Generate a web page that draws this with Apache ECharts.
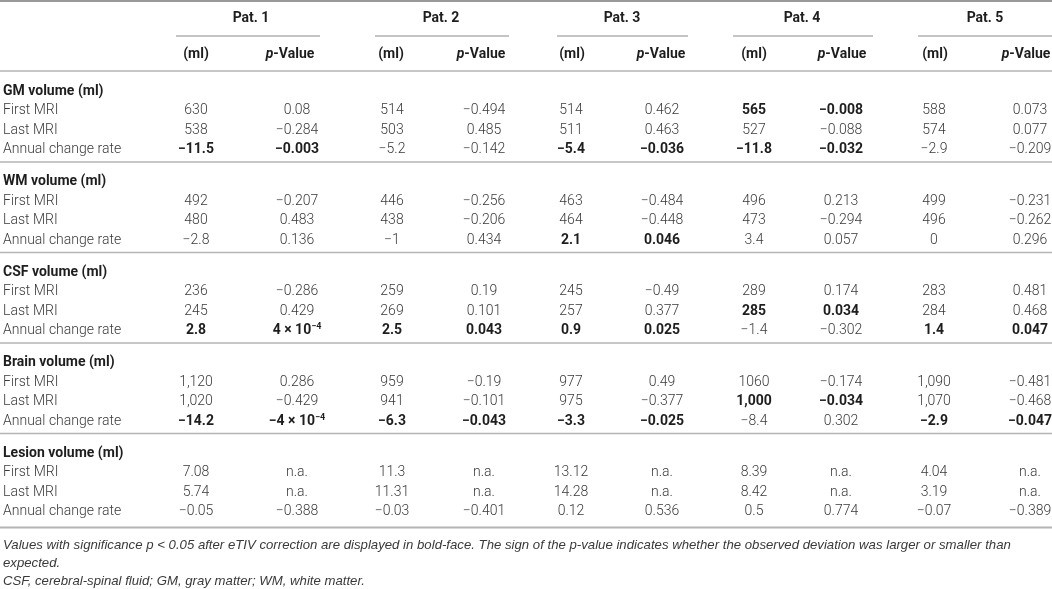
<!DOCTYPE html>
<html>
<head>
<meta charset="utf-8">
<script src="https://cdn.jsdelivr.net/npm/echarts@6/dist/echarts.min.js"></script>
<style>
  html, body { margin: 0; padding: 0; background: #fff; }
  #tbl { width: 1052px; height: 589px; }
</style>
</head>
<body>
<div id="tbl"></div>
<script>
// table content
const patients = ['Pat. 1', 'Pat. 2', 'Pat. 3', 'Pat. 4', 'Pat. 5'];
const subHeads = ['(ml)', '{i|p}-Value'];
const measures = ['GM volume (ml)', 'WM volume (ml)', 'CSF volume (ml)', 'Brain volume (ml)', 'Lesion volume (ml)'];
const rowLabels = ['First MRI', 'Last MRI', 'Annual change rate'];

// per row: (ml), p-value for Pat. 1..5
const gmVals = [
  ['630', '0.08', '514', '−0.494', '514', '0.462', '565', '−0.008', '588', '0.073'],
  ['538', '−0.284', '503', '0.485', '511', '0.463', '527', '−0.088', '574', '0.077'],
  ['−11.5', '−0.003', '−5.2', '−0.142', '−5.4', '−0.036', '−11.8', '−0.032', '−2.9', '−0.209']
];
const wmVals = [
  ['492', '−0.207', '446', '−0.256', '463', '−0.484', '496', '0.213', '499', '−0.231'],
  ['480', '0.483', '438', '−0.206', '464', '−0.448', '473', '−0.294', '496', '−0.262'],
  ['−2.8', '0.136', '−1', '0.434', '2.1', '0.046', '3.4', '0.057', '0', '0.296']
];
const csfVals = [
  ['236', '−0.286', '259', '0.19', '245', '−0.49', '289', '0.174', '283', '0.481'],
  ['245', '0.429', '269', '0.101', '257', '0.377', '285', '0.034', '284', '0.468'],
  ['2.8', '4 × 10^−4', '2.5', '0.043', '0.9', '0.025', '−1.4', '−0.302', '1.4', '0.047']
];
const brainVals = [
  ['1,120', '0.286', '959', '−0.19', '977', '0.49', '1060', '−0.174', '1,090', '−0.481'],
  ['1,020', '−0.429', '941', '−0.101', '975', '−0.377', '1,000', '−0.034', '1,070', '−0.468'],
  ['−14.2', '−4 × 10^−4', '−6.3', '−0.043', '−3.3', '−0.025', '−8.4', '0.302', '−2.9', '−0.047']
];
const lesionVals = [
  ['7.08', 'n.a.', '11.3', 'n.a.', '13.12', 'n.a.', '8.39', 'n.a.', '4.04', 'n.a.'],
  ['5.74', 'n.a.', '11.31', 'n.a.', '14.28', 'n.a.', '8.42', 'n.a.', '3.19', 'n.a.'],
  ['−0.05', '−0.388', '−0.03', '−0.401', '0.12', '0.536', '0.5', '0.774', '−0.07', '−0.389']
];
// 1 = significant (bold)
const gmBold = ['0000001100', '0000000000', '1100111100'];
const wmBold = ['0000000000', '0000000000', '0000110000'];
const csfBold = ['0000000000', '0000001100', '1111110011'];
const brainBold = ['0000000000', '0000001100', '1111110011'];
const lesionBold = ['0000000000', '0000000000', '0000000000'];

const footnotes = [
  'Values with significance p < 0.05 after eTIV correction are displayed in bold-face. The sign of the p-value indicates whether the observed deviation was larger or smaller than',
  'expected.',
  'CSF, cerebral-spinal fluid; GM, gray matter; WM, white matter.'
];

const blockVals = [gmVals, wmVals, csfVals, brainVals, lesionVals];
const blockBold = [gmBold, wmBold, csfBold, brainBold, lesionBold];

// layout (px in a 1052 x 589 space)
const colX = [196, 297, 392, 484, 571, 662, 754, 841, 934, 1030];
const headX = [196, 290, 391, 481, 572, 661, 754, 842, 935, 1026];
const patX = [251, 441, 622, 802, 985];
const underlines = [[176, 320], [375, 509], [557, 688], [733, 873], [918, 1052]];
const FONT = 'Roboto, "Liberation Sans", Arial, sans-serif';
const NOTE_FONT = '"Liberation Sans", Arial, sans-serif';

const cells = [];
const addCell = (x, y, text, kind, align) => cells.push({x, y, text, kind, align: align || 'center'});

patients.forEach((p, i) => addCell(patX[i], 18, p, 'bold'));
patients.forEach((p, i) => {
  addCell(headX[i * 2], 54, subHeads[0], 'bold');
  addCell(headX[i * 2 + 1], 54, subHeads[1], 'bold');
});

const lines = [];
lines.push([0, 1, 1052, 2, '#999']);
underlines.forEach(u => lines.push([u[0], 36, u[1], 2, '#c4c4c4']));
lines.push([0, 71, 1052, 1.5, '#b4b4b4']);

measures.forEach((m, k) => {
  const top = 71 + 90.5 * k;
  addCell(3, top + 20, m, 'bold', 'left');
  rowLabels.forEach((lab, r) => {
    const y = top + 39.5 + 19.5 * r;
    addCell(3, y, lab, 'normal', 'left');
    blockVals[k][r].forEach((v, c) => {
      addCell(colX[c], y, v, blockBold[k][r][c] === '1' ? 'bold' : 'normal');
    });
  });
  if (k < measures.length - 1) lines.push([0, top + 91, 1052, 1.5, '#b4b4b4']);
});
lines.push([0, 527.5, 1052, 2, '#b4b4b4']);

footnotes.forEach((f, i) => addCell(3, 545 + 18 * i, f, 'note', 'left'));

// turn "a^b" into rich text with a superscript
function richText(s, tag) {
  if (s.indexOf('^') < 0) return '{' + tag + '|' + s + '}';
  const parts = s.split('^');
  return '{' + tag + '|' + parts[0] + '}{' + tag + 'Sup|' + parts[1] + '}';
}

const rich = {
  normal: {fontFamily: FONT, fontSize: 14, fontWeight: 300, fill: '#3a3a3a', lineHeight: 16},
  bold: {fontFamily: FONT, fontSize: 14, fontWeight: 'bold', fill: '#1e1e1e', lineHeight: 16},
  normalSup: {fontFamily: FONT, fontSize: 9, fontWeight: 300, fill: '#3a3a3a', lineHeight: 16, verticalAlign: 'top'},
  boldSup: {fontFamily: FONT, fontSize: 9, fontWeight: 'bold', fill: '#1e1e1e', lineHeight: 16, verticalAlign: 'top'},
  i: {fontFamily: FONT, fontSize: 14, fontWeight: 'bold', fontStyle: 'italic', fill: '#1e1e1e', lineHeight: 16},
  note: {fontFamily: NOTE_FONT, fontSize: 13.2, fontStyle: 'italic', fill: '#3a3a3a', lineHeight: 16}
};

const chart = echarts.init(document.getElementById('tbl'));
chart.setOption({
  animation: false,
  grid: {left: 0, right: 0, top: 0, bottom: 0},
  xAxis: {type: 'value', min: 0, max: 1052, show: false},
  yAxis: {type: 'value', min: 0, max: 589, inverse: true, show: false},
  series: [
    {
      type: 'custom',
      data: lines.map((l, i) => [l[0], l[1], l[2], i]),
      renderItem: (params, api) => {
        const l = lines[api.value(3)];
        const a = api.coord([api.value(0), api.value(1)]);
        const b = api.coord([api.value(2), api.value(1)]);
        return {
          type: 'line',
          shape: {x1: a[0], y1: a[1], x2: b[0], y2: b[1]},
          style: {stroke: l[4], lineWidth: l[3]}
        };
      }
    },
    {
      type: 'custom',
      data: cells.map((c, i) => [c.x, c.y, i]),
      renderItem: (params, api) => {
        const c = cells[api.value(2)];
        const pt = api.coord([api.value(0), api.value(1)]);
        let t;
        if (c.text.indexOf('{i|') === 0) t = c.text.replace('-Value', '') + '{bold|-Value}';
        else t = richText(c.text, c.kind);
        return {
          type: 'text',
          x: pt[0],
          y: pt[1],
          style: {
            text: t,
            rich: rich,
            align: c.align,
            verticalAlign: 'middle'
          }
        };
      }
    }
  ]
});
</script>
</body>
</html>
